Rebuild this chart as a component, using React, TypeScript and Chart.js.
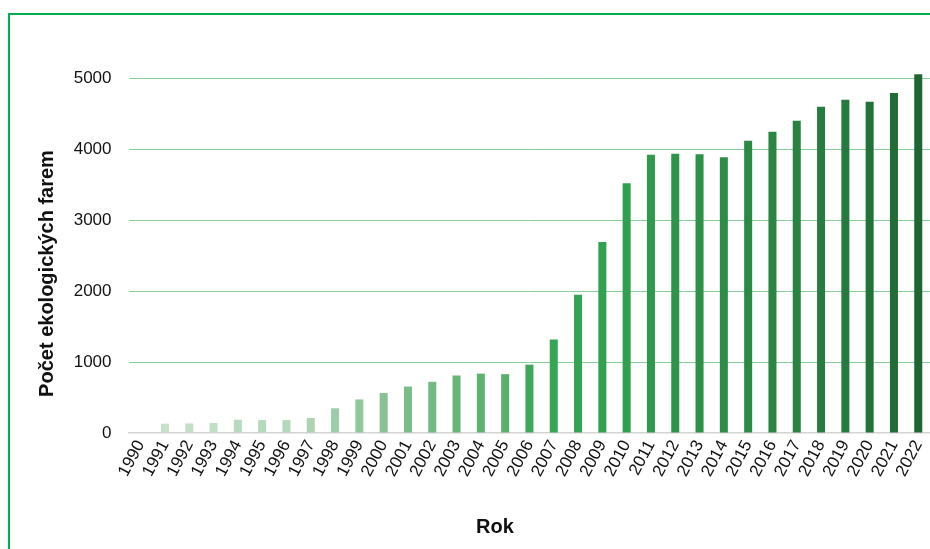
import React, { useEffect, useRef } from "react";
import { Chart, registerables } from "chart.js";

Chart.register(...registerables);

const years: string[] = [
  "1990", "1991", "1992", "1993", "1994", "1995", "1996", "1997", "1998", "1999",
  "2000", "2001", "2002", "2003", "2004", "2005", "2006", "2007", "2008", "2009",
  "2010", "2011", "2012", "2013", "2014", "2015", "2016", "2017", "2018", "2019",
  "2020", "2021", "2022",
];

const farms: number[] = [
  3, 132, 135, 141, 187, 181, 182, 211, 348, 473,
  563, 654, 721, 810, 836, 829, 963, 1318, 1946, 2689,
  3517, 3920, 3934, 3926, 3885, 4115, 4243, 4399, 4596, 4695,
  4667, 4790, 5054,
];

const barColors: string[] = [
  "#c8e3cc", "#c5e1c9", "#c3e0c7", "#c0dfc5", "#b7dabd", "#b5d9bb", "#b3d8b9", "#acd4b2", "#9dcda7", "#90c79b",
  "#86c292", "#7bbd88", "#72ba81", "#67b577", "#5eb270", "#59b06c", "#3ea95a", "#35a652", "#33a451", "#33a250",
  "#31a04e", "#2f9a4b", "#2e9449", "#2d9147", "#2c8d46", "#2b8a44", "#2a8642", "#298240", "#277d3f", "#257a3d",
  "#237239", "#226d37", "#1f6633",
];

const yTicks: number[] = [0, 1000, 2000, 3000, 4000, 5000];

const xTitle = "Rok";
const yTitle = "Počet ekologických farem";

const FONT = '"Liberation Sans", Arial, Helvetica, sans-serif';

const axisTitles = {
  id: "axisTitles",
  afterDraw(chart: any) {
    const { ctx, chartArea } = chart;
    ctx.save();
    ctx.fillStyle = "#111111";
    ctx.font = `bold 20px ${FONT}`;
    ctx.textAlign = "center";
    ctx.textBaseline = "alphabetic";
    ctx.fillText(xTitle, chart.width / 2, chartArea.bottom + 100);
    ctx.translate(43, (chartArea.top + chartArea.bottom) / 2 + 18);
    ctx.rotate(-Math.PI / 2);
    ctx.fillText(yTitle, 0, 0);
    ctx.restore();
  },
};

export default function App() {
  const canvasRef = useRef<HTMLCanvasElement | null>(null);

  useEffect(() => {
    if (!canvasRef.current) return;
    const chart = new Chart(canvasRef.current, {
      type: "bar",
      data: {
        labels: years,
        datasets: [
          {
            data: farms,
            backgroundColor: barColors,
            borderWidth: 0,
            barPercentage: 0.33,
            categoryPercentage: 1,
            clip: false as any,
          },
        ],
      },
      options: {
        responsive: false,
        animation: false,
        devicePixelRatio: 1,
        layout: { padding: { top: 63, right: 49.6, bottom: 0, left: 0 } },
        plugins: {
          legend: { display: false },
          tooltip: { enabled: false },
          title: { display: false },
        },
        scales: {
          x: {
            grid: { display: false, drawTicks: false },
            border: { display: true, color: "#d4d4d4", width: 1.5 },
            ticks: {
              color: "#111111",
              font: { family: FONT, size: 17 },
              minRotation: 62,
              maxRotation: 62,
              autoSkip: false,
              padding: 4,
            },
            afterFit: (scale: any) => {
              scale.height = 122;
            },
          },
          y: {
            min: 0,
            max: 5000,
            afterBuildTicks: (scale: any) => {
              scale.ticks = yTicks.map((v) => ({ value: v }));
            },
            grid: {
              drawTicks: false,
              color: (c: any) => (c.tick && c.tick.value === 0 ? "rgba(0,0,0,0)" : "#86cf96"),
              lineWidth: 1,
            },
            border: { display: false },
            ticks: {
              color: "#111111",
              font: { family: FONT, size: 17 },
              padding: 17,
              callback: (v: any) => String(v),
            },
            afterFit: (scale: any) => {
              scale.width = 118.5;
            },
          },
        },
      },
      plugins: [axisTitles],
    });
    return () => chart.destroy();
  }, []);

  return (
    <div
      style={{
        position: "fixed",
        left: 0,
        top: 0,
        width: 930,
        height: 549,
        overflow: "hidden",
        background: "#ffffff",
      }}
    >
      <div
        style={{
          position: "absolute",
          left: 8,
          top: 13,
          width: 970,
          height: 540,
          border: "2px solid #00b050",
        }}
      >
        <canvas ref={canvasRef} width={970} height={540} style={{ display: "block" }} />
      </div>
    </div>
  );
}
